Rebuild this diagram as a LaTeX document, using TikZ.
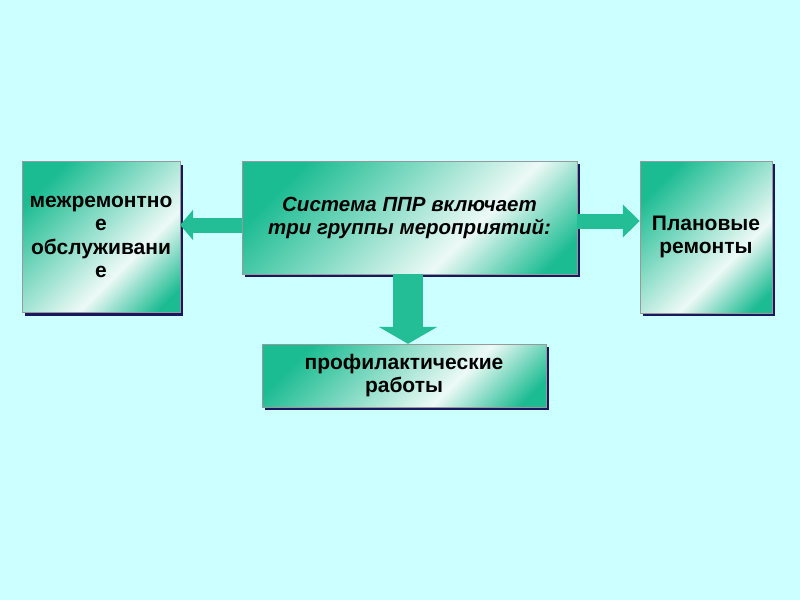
\documentclass[tikz,border=0pt]{standalone}
\usepackage{fontspec}
\setmainfont{Liberation Sans}
\usetikzlibrary{arrows.meta,shadows,calc}
\definecolor{bgcyan}{RGB}{204,255,255}
\definecolor{boxteal}{RGB}{28,188,146}
\definecolor{arrowteal}{RGB}{36,190,150}
\definecolor{shadownavy}{RGB}{24,24,96}
\pgfdeclarehorizontalshading{pprshade}{100bp}{color(0bp)=(boxteal); color(25bp)=(boxteal);
  color(62bp)=(white!92!boxteal); color(80bp)=(boxteal); color(100bp)=(boxteal)}
\tikzset{
  pprbox/.style={draw=black!40, line width=0.4pt, shading=pprshade, shading angle=-45,
    drop shadow={shadow xshift=3pt, shadow yshift=-3pt, fill=shadownavy, opacity=1},
    align=center, inner sep=0pt, font=\bfseries\fontsize{21}{23.5}\selectfont},
  blockarrow/.style={line width=#1, arrowteal}
}

\begin{document}
\begin{tikzpicture}[x=1pt,y=-1pt]
\fill[bgcyan] (0,0) rectangle (800,600);
\useasboundingbox (0,0) rectangle (800,600);
% the four blocks
\node[pprbox, minimum width=335pt, minimum height=113pt,
  font=\bfseries\itshape\fontsize{20.5}{23}\selectfont] (sys) at (409.5,217.5)
  {Система ППР включает\\три группы мероприятий:};
\node[pprbox, minimum width=158pt, minimum height=151pt] (mezh) at (101,237)
  {межремонтно\\е\\обслуживани\\е};
\node[pprbox, minimum width=132pt, minimum height=152pt] (plan) at (706,237)
  {Плановые\\ремонты};
\node[pprbox, minimum width=284pt, minimum height=63pt] (prof) at (404,375.5)
  {профилактические\\работы};
% block arrows
\draw[blockarrow=15pt, -{Triangle[length=13pt,width=30pt]}]
  ($(sys.west)+(0,7.5)$) -- ($(mezh.east |- sys.west)+(0,7.5)$);
\draw[blockarrow=15pt, -{Triangle[length=17pt,width=32pt]}]
  ($(sys.east)+(0,3.5)$) -- ($(plan.west |- sys.east)+(0,3.5)$);
\draw[blockarrow=30pt, -{Triangle[length=17pt,width=58pt]}]
  ($(sys.south)+(-1.5,0)$) -- ($(prof.north -| sys.south)+(-1.5,0)$);
\end{tikzpicture}
\end{document}
